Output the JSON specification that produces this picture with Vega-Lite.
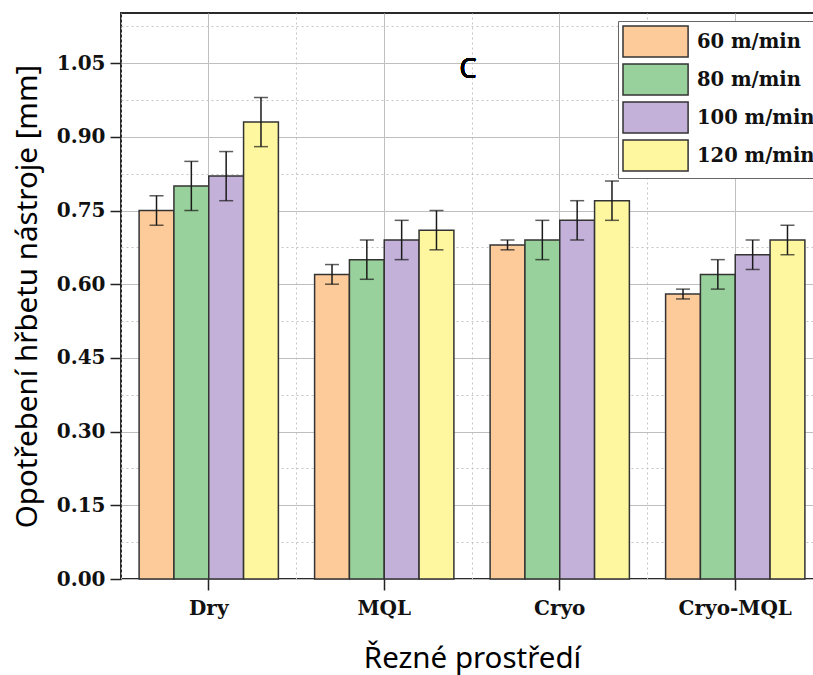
{
  "$schema": "https://vega.github.io/schema/vega-lite/v6.json",
  "width": 702,
  "height": 566,
  "padding": {"left": 12, "top": 13, "right": 0, "bottom": 5},
  "background": "white",
  "data": {
    "values": [
      {"env": "Dry", "speed": "60 m/min", "wear": 0.75, "lo": 0.72, "hi": 0.78},
      {"env": "Dry", "speed": "80 m/min", "wear": 0.80, "lo": 0.75, "hi": 0.85},
      {"env": "Dry", "speed": "100 m/min", "wear": 0.82, "lo": 0.77, "hi": 0.87},
      {"env": "Dry", "speed": "120 m/min", "wear": 0.93, "lo": 0.88, "hi": 0.98},
      {"env": "MQL", "speed": "60 m/min", "wear": 0.62, "lo": 0.60, "hi": 0.64},
      {"env": "MQL", "speed": "80 m/min", "wear": 0.65, "lo": 0.61, "hi": 0.69},
      {"env": "MQL", "speed": "100 m/min", "wear": 0.69, "lo": 0.65, "hi": 0.73},
      {"env": "MQL", "speed": "120 m/min", "wear": 0.71, "lo": 0.67, "hi": 0.75},
      {"env": "Cryo", "speed": "60 m/min", "wear": 0.68, "lo": 0.67, "hi": 0.69},
      {"env": "Cryo", "speed": "80 m/min", "wear": 0.69, "lo": 0.65, "hi": 0.73},
      {"env": "Cryo", "speed": "100 m/min", "wear": 0.73, "lo": 0.69, "hi": 0.77},
      {"env": "Cryo", "speed": "120 m/min", "wear": 0.77, "lo": 0.73, "hi": 0.81},
      {"env": "Cryo-MQL", "speed": "60 m/min", "wear": 0.58, "lo": 0.57, "hi": 0.59},
      {"env": "Cryo-MQL", "speed": "80 m/min", "wear": 0.62, "lo": 0.59, "hi": 0.65},
      {"env": "Cryo-MQL", "speed": "100 m/min", "wear": 0.66, "lo": 0.63, "hi": 0.69},
      {"env": "Cryo-MQL", "speed": "120 m/min", "wear": 0.69, "lo": 0.66, "hi": 0.72}
    ]
  },
  "resolve": {"axis": {"x": "independent", "y": "independent"}},
  "layer": [
    {
      "mark": {"type": "bar", "stroke": "#333333", "strokeWidth": 1.5, "opacity": 1},
      "encoding": {
        "x": {
          "field": "env", "type": "nominal",
          "sort": ["Dry", "MQL", "Cryo", "Cryo-MQL"],
          "scale": {"paddingInner": 0, "paddingOuter": 0},
          "axis": {
            "orient": "bottom",
            "title": "Řezné prostředí",
            "titleFont": "Noto Sans", "titleFontSize": 29.5, "titleFontWeight": "normal", "titleColor": "#000000",
            "titlePadding": 26,
            "labelFont": "DejaVu Serif", "labelFontSize": 20, "labelFontWeight": "bold", "labelColor": "#111111",
            "labelPadding": 8, "labelAngle": 0,
            "bandPosition": 0.5,
            "domain": false,
            "ticks": true, "tickSize": 11, "tickColor": "#222222", "tickWidth": 1.5,
            "grid": true, "gridColor": "#bfbfbf", "gridWidth": 1
          }
        },
        "xOffset": {
          "field": "speed", "type": "nominal",
          "sort": ["60 m/min", "80 m/min", "100 m/min", "120 m/min"],
          "scale": {"paddingInner": 0, "paddingOuter": 0.52}
        },
        "y": {
          "field": "wear", "type": "quantitative",
          "scale": {"domain": [0, 1.152], "nice": false, "zero": true},
          "axis": {
            "orient": "left",
            "title": "Opotřebení hřbetu nástroje [mm]",
            "titleFont": "Noto Sans", "titleFontSize": 29.5, "titleFontWeight": "normal", "titleColor": "#000000",
            "titlePadding": 14,
            "values": [0, 0.15, 0.3, 0.45, 0.6, 0.75, 0.9, 1.05],
            "format": ".2f",
            "labelFont": "DejaVu Serif", "labelFontSize": 20, "labelFontWeight": "bold", "labelColor": "#111111",
            "labelPadding": 5,
            "domain": false,
            "ticks": true, "tickSize": 11, "tickColor": "#222222", "tickWidth": 1.5,
            "grid": true, "gridColor": "#bfbfbf", "gridWidth": 1
          }
        },
        "color": {
          "field": "speed", "type": "nominal",
          "sort": ["60 m/min", "80 m/min", "100 m/min", "120 m/min"],
          "scale": {
            "domain": ["60 m/min", "80 m/min", "100 m/min", "120 m/min"],
            "range": ["#fdcb9a", "#98d19b", "#c3b1da", "#fff7a0"]
          },
          "legend": {
            "title": null,
            "orient": "none",
            "legendX": 497,
            "legendY": 8,
            "padding": 4,
            "fillColor": "#ffffff",
            "strokeColor": "#666666",
            "symbolType": "M-1,-1H3.2V1H-1Z",
            "symbolSize": 961,
            "symbolStrokeColor": "#333333",
            "symbolStrokeWidth": 1.5,
            "symbolOpacity": 1,
            "labelFont": "DejaVu Serif", "labelFontSize": 19.5, "labelFontWeight": "bold", "labelColor": "#111111",
            "labelOffset": 42,
            "rowPadding": 1
          }
        }
      }
    },
    {
      "mark": {"type": "rule", "color": "#1a1a1a", "strokeWidth": 1.5},
      "encoding": {
        "x": {
          "field": "env", "type": "nominal",
          "sort": ["Dry", "MQL", "Cryo", "Cryo-MQL"],
          "axis": {
            "orient": "top",
            "title": null,
            "labels": false, "ticks": false, "domain": false,
            "bandPosition": 0,
            "grid": true, "gridColor": "#c4c4c4", "gridDash": [2, 3], "gridWidth": 1
          }
        },
        "xOffset": {"field": "speed", "type": "nominal", "sort": ["60 m/min", "80 m/min", "100 m/min", "120 m/min"]},
        "y": {
          "field": "lo", "type": "quantitative",
          "axis": {
            "orient": "right",
            "title": null,
            "labels": false, "ticks": false, "domain": false,
            "values": [0.075, 0.225, 0.375, 0.525, 0.675, 0.825, 0.975, 1.125],
            "grid": true, "gridColor": "#c4c4c4", "gridDash": [2, 3], "gridWidth": 1
          }
        },
        "y2": {"field": "hi"}
      }
    },
    {
      "mark": {"type": "tick", "color": "#1a1a1a", "orient": "horizontal", "size": 14, "thickness": 1.5},
      "encoding": {
        "x": {"field": "env", "type": "nominal", "sort": ["Dry", "MQL", "Cryo", "Cryo-MQL"], "axis": null},
        "xOffset": {"field": "speed", "type": "nominal", "sort": ["60 m/min", "80 m/min", "100 m/min", "120 m/min"]},
        "y": {"field": "lo", "type": "quantitative", "axis": null}
      }
    },
    {
      "mark": {"type": "tick", "color": "#1a1a1a", "orient": "horizontal", "size": 14, "thickness": 1.5},
      "encoding": {
        "x": {"field": "env", "type": "nominal", "sort": ["Dry", "MQL", "Cryo", "Cryo-MQL"], "axis": null},
        "xOffset": {"field": "speed", "type": "nominal", "sort": ["60 m/min", "80 m/min", "100 m/min", "120 m/min"]},
        "y": {"field": "hi", "type": "quantitative", "axis": null}
      }
    },
    {
      "mark": {"type": "text", "text": "C", "font": "Noto Sans", "fontSize": 27, "color": "#000000", "align": "center", "baseline": "middle", "dx": -4, "dy": 2},
      "encoding": {
        "x": {"datum": "Cryo", "type": "nominal", "bandPosition": 0, "axis": null},
        "y": {"datum": 1.04, "type": "quantitative", "axis": null}
      }
    }
  ],
  "config": {
    "view": {"stroke": "#2a2a2a", "strokeWidth": 2},
    "axis": {"gridOpacity": 1}
  }
}
